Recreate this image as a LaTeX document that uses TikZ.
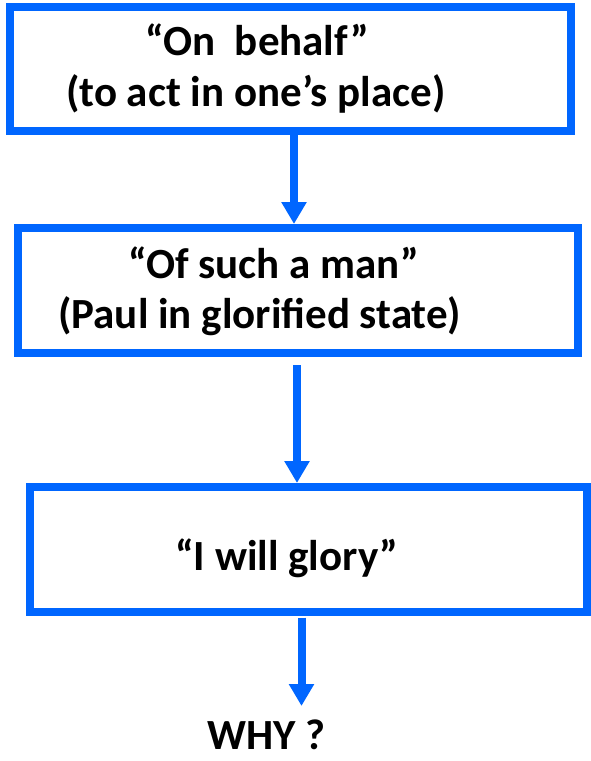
\documentclass[tikz,border=0pt]{standalone}
\usepackage{fontspec}
\setmainfont{Carlito}
\usetikzlibrary{arrows.meta}
\definecolor{flowblue}{RGB}{0,102,255}
\begin{document}
\begin{tikzpicture}[x=1pt,y=-1pt,
  box/.style={draw=flowblue, line width=8pt, rectangle, inner sep=0pt},
  lbl/.style={anchor=base west, inner sep=0pt, font=\fontsize{43}{50}\selectfont\bfseries},
  arr/.style={draw=flowblue, line width=8pt, -{Triangle[width=24pt,length=22pt]}}
]
\useasboundingbox (0,0) rectangle (591,761);
\node[box, minimum width=561pt, minimum height=124.5pt] (b1) at (290.5,68.75) {};
\node[box, minimum width=560.5pt, minimum height=125pt] (b2) at (297.75,290.5) {};
\node[box, minimum width=557pt, minimum height=124.5pt] (b3) at (308.5,549.25) {};

\node[lbl] (t1a) at (145,55) {“On\ \ behalf”};
\node[lbl] (t1b) at (66,106) {(to act in one’s place)};
\node[lbl] (t2a) at (128,278) {“Of such a man”};
\node[lbl] (t2b) at (58,328) {(Paul in glorified state)};
\node[lbl] (t3) at (175,570) {“I will glory”};
\node[lbl, text depth=0pt] (why) at (207,749) {WHY ?};

\coordinate (c1) at (294,0);
\coordinate (c2) at (297,0);
\coordinate (c3) at (301.5,0);
\coordinate (e3) at (301.5,706);

\draw[arr] (b1.south -| c1) -- (b2.north -| c1);
\draw[arr, shorten <=8pt] (b2.south -| c2) -- (b3.north -| c2);
\draw[arr, shorten <=2pt] (b3.south -| c3) -- (e3);
\end{tikzpicture}
\end{document}
